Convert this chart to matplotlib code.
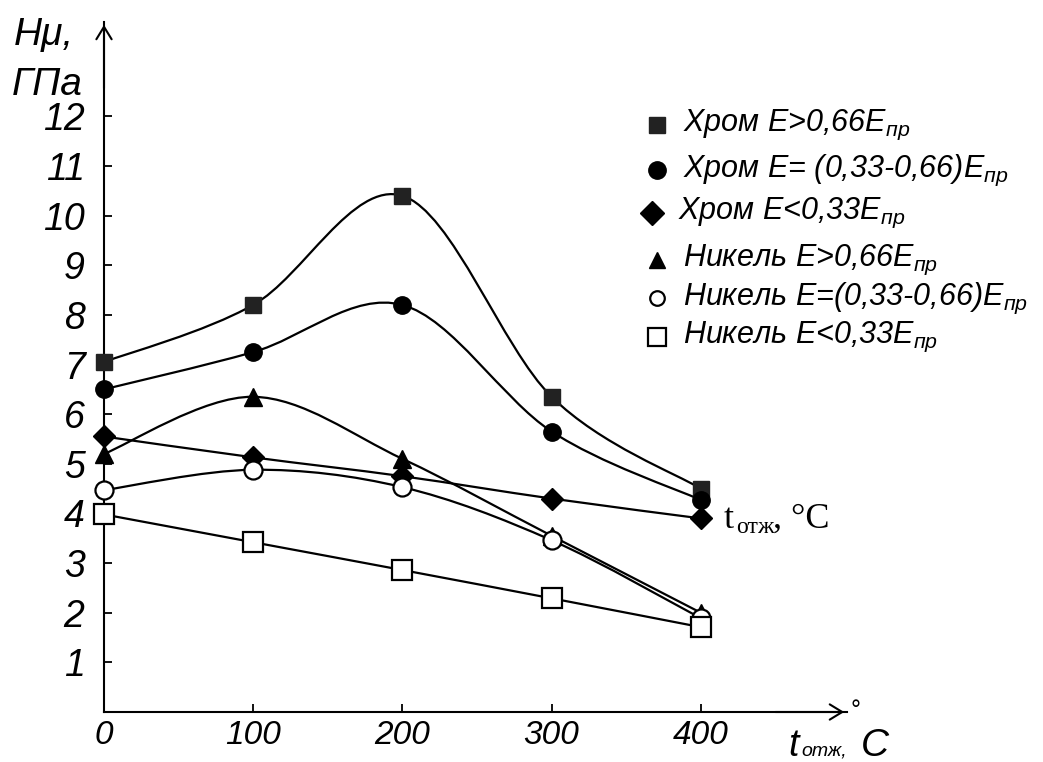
import matplotlib
matplotlib.use('Agg')

import matplotlib.pyplot as plt
from matplotlib.path import Path
from matplotlib.patches import PathPatch

# annealing temperature, degC
temps = [0, 100, 200, 300, 400]
tick_labels_y = list(range(1, 13))

# microhardness, GPa
chrome_high = [7.05, 8.2, 10.4, 6.35, 4.5]
chrome_mid = [6.5, 7.25, 8.2, 5.65, 4.27]
chrome_low = [5.55, 5.13, 4.75, 4.3, 3.9]
nickel_high = [5.2, 6.35, 5.1, 3.55, 2.0]
nickel_mid = [4.47, 4.88, 4.53, 3.46, 1.89]
nickel_low = [3.98, 3.42, 2.86, 2.29, 1.71]

labels = [
    u'Хром E>0,66E$_{пр}$',
    u'Хром E= (0,33-0,66)E$_{пр}$',
    u'Хром E<0,33E$_{пр}$',
    u'Никель E>0,66E$_{пр}$',
    u'Никель E=(0,33-0,66)E$_{пр}$',
    u'Никель E<0,33E$_{пр}$',
]

plt.rcParams['font.family'] = ['Liberation Sans', 'DejaVu Sans']
plt.rcParams['font.style'] = 'italic'
plt.rcParams['mathtext.fontset'] = 'custom'
plt.rcParams['mathtext.it'] = 'Liberation Sans:italic'
plt.rcParams['mathtext.rm'] = 'Liberation Sans'

W, H = 1043, 762


def px(x, y):
    return x / W, 1 - y / H


def smooth_path(x, y):
    # catmull-rom curve through the points, as cubic bezier segments
    pts = list(zip(x, y))
    verts = [pts[0]]
    codes = [Path.MOVETO]
    n = len(pts)
    for i in range(n - 1):
        p0 = pts[i - 1] if i > 0 else pts[i]
        p1 = pts[i]
        p2 = pts[i + 1]
        p3 = pts[i + 2] if i + 2 < n else pts[i + 1]
        c1 = (p1[0] + (p2[0] - p0[0]) / 6.0, p1[1] + (p2[1] - p0[1]) / 6.0)
        c2 = (p2[0] - (p3[0] - p1[0]) / 6.0, p2[1] - (p3[1] - p1[1]) / 6.0)
        verts += [c1, c2, p2]
        codes += [Path.CURVE4] * 3
    return Path(verts, codes)


fig = plt.figure(figsize=(10.43, 7.62), dpi=100)
ax = fig.add_axes([104 / W, 50 / H, (847 - 104) / W, (712 - 22) / H])
ax.set_xlim(0, 498)
ax.set_ylim(0, 13.9)

for s in (u'top', u'right'):
    ax.spines[s].set_visible(False)
for s in (u'left', u'bottom'):
    ax.spines[s].set_linewidth(1.5)

arrow = dict(arrowstyle=u'->,head_length=0.9,head_width=0.55', lw=1.5, color=u'k')
ax.annotate(u'', xy=(0, 1.0), xytext=(0, 0.9), xycoords=u'axes fraction', arrowprops=arrow)
ax.annotate(u'', xy=(1.0, 0), xytext=(0.9, 0), xycoords=u'axes fraction', arrowprops=arrow)

ax.set_xticks(temps)
ax.set_yticks(tick_labels_y)
ax.tick_params(direction=u'in', length=6, width=1.3, labelsize=27)
ax.tick_params(axis=u'y', pad=14)
ax.tick_params(axis=u'x', pad=6, labelsize=24)

series = [chrome_high, chrome_mid, chrome_low, nickel_high, nickel_mid, nickel_low]
styles = [
    dict(marker=u's', ms=12, mfc=u'#222222', mec=u'#222222'),
    dict(marker=u'o', ms=12.5, mfc=u'k', mec=u'k'),
    dict(marker=u'D', ms=11.5, mfc=u'k', mec=u'k'),
    dict(marker=u'^', ms=13, mfc=u'k', mec=u'k'),
    dict(marker=u'o', ms=13, mfc=u'white', mec=u'k', mew=1.6),
    dict(marker=u's', ms=15, mfc=u'white', mec=u'k', mew=1.6),
]

for vals in series:
    ax.add_patch(PathPatch(smooth_path(temps, vals), fill=False, lw=1.6, ec=u'k', zorder=2))
for vals, st in zip(series, styles):
    ax.plot(temps, vals, ls=u'none', zorder=3, clip_on=False, **st)

# legend drawn by hand
leg_rows = [125, 170, 213, 260, 298, 337]
leg_mx = [657, 657, 652, 657, 657, 657]
leg_tx = [683, 683, 678, 683, 683, 683]
leg_st = [
    dict(marker=u's', ms=11, mfc=u'#222222', mec=u'#222222'),
    dict(marker=u'o', ms=12.5, mfc=u'k', mec=u'k'),
    dict(marker=u'D', ms=12.5, mfc=u'k', mec=u'k'),
    dict(marker=u'^', ms=11.5, mfc=u'k', mec=u'k'),
    dict(marker=u'o', ms=10.5, mfc=u'white', mec=u'k', mew=1.6),
    dict(marker=u's', ms=12.5, mfc=u'white', mec=u'k', mew=1.6),
]
for y, mx, tx, st, lab in zip(leg_rows, leg_mx, leg_tx, leg_st, labels):
    fx, fy = px(mx, y)
    ax.plot([fx], [fy], transform=fig.transFigure, clip_on=False, **st)
    fx, fy = px(tx, y)
    fig.text(fx, fy, lab, fontsize=22, va=u'center', ha=u'left')

# axis titles
fig.text(*px(14, 45), s=u'Hμ,', fontsize=28, va=u'baseline')
fig.text(*px(12, 95), s=u'ГПа', fontsize=28, va=u'baseline')

fig.text(*px(788, 756), s=u't', fontsize=27, va=u'baseline')
fig.text(*px(801, 756), s=u'отж,', fontsize=14, va=u'baseline')
fig.text(*px(850, 718), s=u'°', fontsize=18, va=u'baseline', style=u'normal')
fig.text(*px(861, 756), s=u'C', fontsize=28, va=u'baseline')

# stray label next to the last diamond
serif = dict(family=u'Liberation Serif', style=u'normal', va=u'baseline')
fig.text(*px(724, 528), s=u't', fontsize=26, **serif)
fig.text(*px(736, 533), s=u'отж', fontsize=17, **serif)
fig.text(*px(773, 528), s=u', °C', fontsize=26, **serif)

plt.savefig(u'out.png', dpi=100)
plt.close()
